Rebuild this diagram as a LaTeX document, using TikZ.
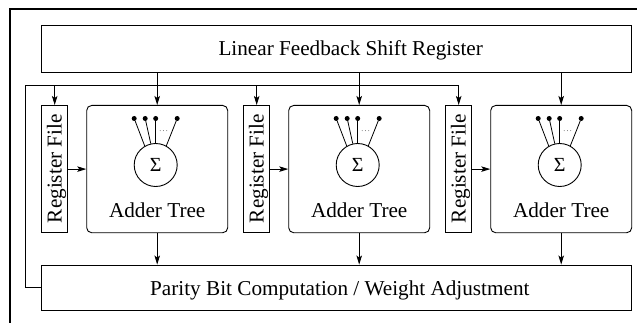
\documentclass[tikz,border=0pt]{standalone}
\usepackage{fontspec}
\setmainfont{Liberation Serif}
\usetikzlibrary{positioning, arrows.meta, calc}

\begin{document}
\begin{tikzpicture}[
    x=1pt, y=-1pt,
    >={Stealth[length=9pt, width=5.5pt, inset=2pt]},
    font=\fontsize{21.2}{25}\selectfont,
    % ---- shared styles ---------------------------------------------------
    blk/.style={draw, line width=0.9pt, inner sep=0pt},
    wide/.style={blk, minimum width=589.3},
    adder/.style={blk, rounded corners=5pt, minimum width=141,
                  minimum height=127.3},
    regf/.style={blk, minimum width=26, minimum height=127.3},
    sigma/.style={draw, circle, line width=0.9pt, minimum size=43,
                  inner sep=0pt, font=\fontsize{20}{22}\selectfont},
    pin/.style={circle, fill, inner sep=0pt, minimum size=5},
    txt/.style={inner sep=0pt},
    wire/.style={line width=0.8pt},
    flow/.style={->, line width=0.9pt},
  ]
\useasboundingbox (0,0) rectangle (637,323);

% outer frame (cut at right and bottom)
\draw[line width=2pt] (10,323) -- (10,9) -- (637,9);

% =========================================================================
% TOP / BOTTOM -- LFSR and parity blocks
% =========================================================================
\node[wide, minimum height=47.7] (lfsr) at (336.3,48.9) {};
\node[txt, anchor=base west] (lfsrtxt) at (218.3,56)
  {Linear Feedback Shift Register};
\node[wide, minimum height=45] (parity) at (336.3,287.5) {};
\node[txt, anchor=base west] (paritytxt) at (150,295)
  {Parity Bit Computation / Weight Adjustment};

% =========================================================================
% MIDDLE -- three register files, each feeding an adder tree
% =========================================================================
\foreach \i in {1,2,3}{
  \pgfmathsetmacro{\cx}{157.2+(\i-1)*202}
  \node[adder] (add\i) at (\cx,169.1) {};
  \node[regf] (rf\i) at (\cx-102.5,169.1) {};
  \node[txt, rotate=90, anchor=base west] (rftxt\i) at (\cx-95.5,223.3)
    {Register File};
  \node[txt, anchor=base] (addtxt\i) at (\cx,217.5) {Adder Tree};
  \node[sigma] (sig\i) at (\cx-1.5,165) {Σ};
  % inputs of the tree
  \foreach \dx/\a [count=\k] in {-21.5/120, -10.5/103, 0/90, 21.5/61}{
    \node[pin] (pin\i\k) at (\cx-1.5+\dx,118.5) {};
    \draw[wire] (pin\i\k) -- (sig\i.\a);}
  \foreach \dx in {4.5,7.75,11}{
    \fill[black!55] (\cx-1.5+\dx,130.7) circle[radius=0.5];}
  % connections
  \draw[flow] (lfsr.south -| add\i.north) -- (add\i.north);
  \draw[flow] (add\i.south) -- (add\i.south |- parity.north);
  \draw[flow] (rf\i.east) -- (add\i.west);
}

% feedback from the parity block back to the register files
\coordinate (fbtop) at (25.7,85.5);
\draw[flow] (parity.west) -| (fbtop) -| (rf3.north);
\foreach \i in {1,2}{
  \draw[flow] (rf\i.north |- fbtop) -- (rf\i.north);}

\end{tikzpicture}
\end{document}
